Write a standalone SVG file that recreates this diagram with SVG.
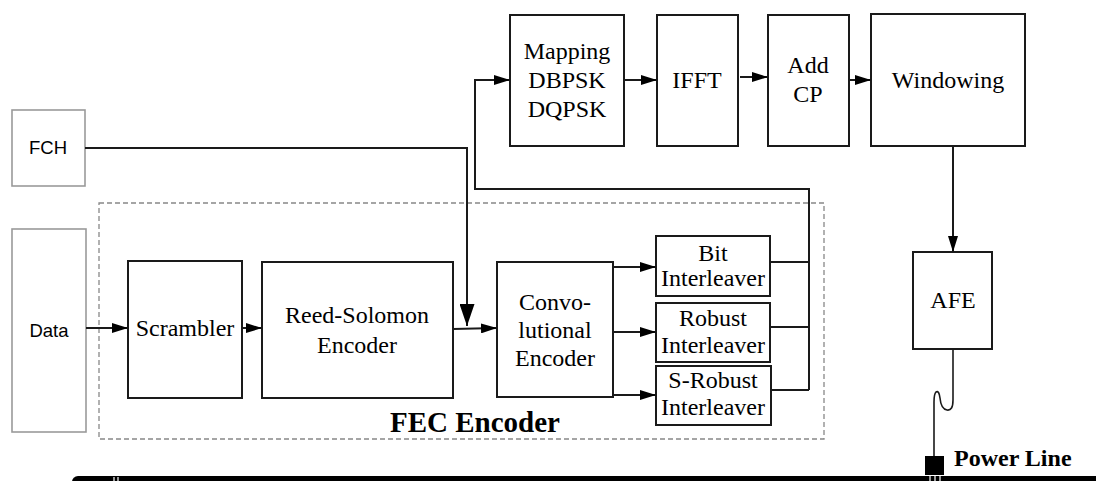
<svg xmlns="http://www.w3.org/2000/svg" width="1096" height="481" viewBox="0 0 1096 481">
<style>
.box{fill:#fff;stroke:#1a1a1a;stroke-width:2}
.src{fill:#fff;stroke:#9a9a9a;stroke-width:1.6}
.t{font-family:'Times New Roman','Liberation Serif',Times,serif;font-size:24px;fill:#000;text-anchor:middle}
.s{font-family:'Liberation Sans',Arial,sans-serif;font-size:18.5px;fill:#000;text-anchor:middle}
.b{font-family:'Times New Roman','Liberation Serif',Times,serif;font-weight:bold;fill:#000}
.ln{fill:none;stroke:#1a1a1a;stroke-width:2}
.a{marker-end:url(#arr)}
</style>
<defs>
<marker id="arr" markerUnits="userSpaceOnUse" markerWidth="16" markerHeight="10" refX="16" refY="5" orient="auto"><path d="M0,0 L16,5 L0,10 z" fill="#000"/></marker>
<marker id="big" markerUnits="userSpaceOnUse" markerWidth="22" markerHeight="15" refX="22" refY="7.5" orient="auto"><path d="M0,0 L22,7.5 L0,15 z" fill="#000"/></marker>
</defs>

<g id="fec-encoder">
<rect x="99" y="203" width="725" height="236" fill="none" stroke="#888" stroke-width="1.3" stroke-dasharray="5,3"/>
<text class="b" x="390" y="432" font-size="29">FEC Encoder</text>
</g>

<g id="fch"><rect class="src" x="12" y="110" width="73" height="76"/><text class="s" x="48" y="154">FCH</text></g>
<g id="data"><rect class="src" x="12" y="229" width="74" height="203"/><text class="s" x="49" y="337">Data</text></g>
<g id="scrambler"><rect class="box" x="128" y="261" width="114" height="137"/><text class="t" x="185" y="336">Scrambler</text></g>
<g id="reed-solomon"><rect class="box" x="262" y="262" width="191" height="136"/><text class="t" x="357" y="323">Reed-Solomon</text><text class="t" x="357" y="353">Encoder</text></g>
<g id="convolutional"><rect class="box" x="497" y="262" width="116" height="135"/><text class="t" x="555" y="310">Convo-</text><text class="t" x="555" y="338">lutional</text><text class="t" x="555" y="366">Encoder</text></g>
<g id="bit-interleaver"><rect class="box" x="656" y="236" width="114" height="60"/><text class="t" x="713" y="261">Bit</text><text class="t" x="713" y="286">Interleaver</text></g>
<g id="robust-interleaver"><rect class="box" x="656" y="303" width="114" height="59"/><text class="t" x="713" y="326">Robust</text><text class="t" x="713" y="353">Interleaver</text></g>
<g id="s-robust-interleaver"><rect class="box" x="656" y="366" width="115" height="59"/><text class="t" x="713" y="388">S-Robust</text><text class="t" x="713" y="415">Interleaver</text></g>
<g id="mapping"><rect class="box" x="510" y="15" width="114" height="131"/><text class="t" x="567" y="59">Mapping</text><text class="t" x="567" y="88">DBPSK</text><text class="t" x="567" y="117">DQPSK</text></g>
<g id="ifft"><rect class="box" x="657" y="15" width="81" height="131"/><text class="t" x="697" y="88">IFFT</text></g>
<g id="add-cp"><rect class="box" x="768" y="15" width="81" height="131"/><text class="t" x="808" y="73">Add</text><text class="t" x="808" y="102">CP</text></g>
<g id="windowing"><rect class="box" x="871" y="14" width="154" height="132"/><text class="t" x="948" y="88">Windowing</text></g>
<g id="afe"><rect class="box" x="913" y="252" width="79" height="97"/><text class="t" x="953" y="308">AFE</text></g>

<g id="power-line">
<rect x="72" y="476" width="1040" height="12" rx="6" fill="#000"/>
<line x1="114" y1="477" x2="114" y2="481" stroke="#fff" stroke-width="1.2"/>
<line x1="118" y1="477" x2="118" y2="481" stroke="#fff" stroke-width="1.2"/>
<line x1="930" y1="476" x2="930" y2="481" stroke="#fff" stroke-width="1.2"/>
<line x1="935" y1="476" x2="935" y2="481" stroke="#fff" stroke-width="1.2"/>
<line x1="940" y1="476" x2="940" y2="481" stroke="#fff" stroke-width="1.2"/>
<rect x="925" y="456" width="19" height="19" fill="#000"/>
<text class="b" x="954" y="466" font-size="24">Power Line</text>
</g>

<g id="connectors">
<path class="ln a" d="M86,328 H128"/>
<path class="ln a" d="M242,328 H262"/>
<path class="ln a" d="M453,329 L497,328"/>
<path class="ln" d="M85,148 H467 V326" marker-end="url(#big)"/>
<path class="ln a" d="M613,267 H656"/>
<path class="ln a" d="M613,332 H656"/>
<path class="ln a" d="M613,395 H656"/>
<path class="ln" d="M770,262 H809 M770,327 H809 M771,390 H809"/>
<path class="ln a" d="M809,390 V189 H475 V80 H510"/>
<path class="ln a" d="M624,80 H657"/>
<path class="ln a" d="M740,77 H768"/>
<path class="ln a" d="M849,80 H871"/>
<path class="ln a" d="M953,146 V252"/>
<path fill="none" stroke="#1a1a1a" stroke-width="1.6" d="M953,349 V400 Q953,411 947,410 Q941,409 940,398 Q939,390 936,392 Q934,394 934,402 V456"/>
</g>
</svg>
